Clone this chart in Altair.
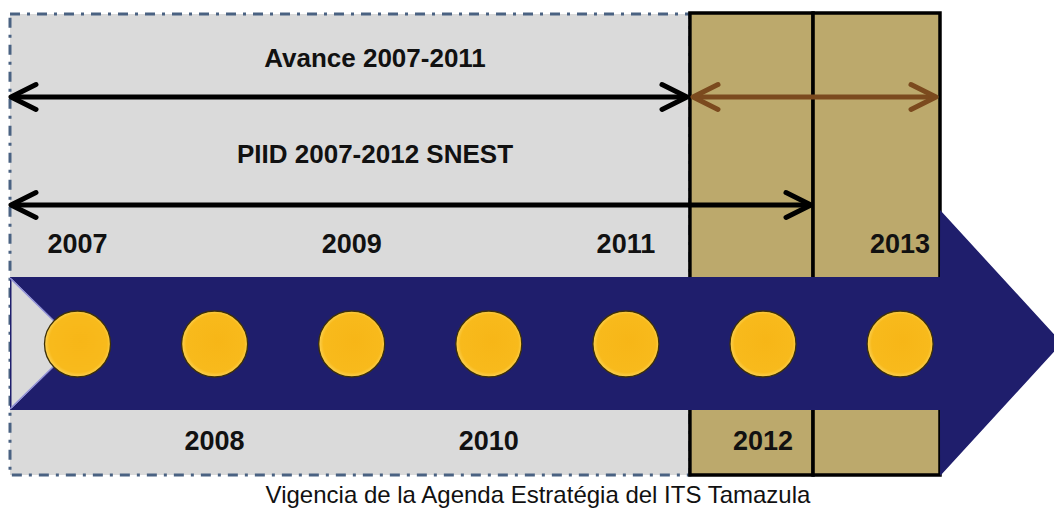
import altair as alt
import pandas as pd

# ---------------- data ----------------
years = [2007, 2008, 2009, 2010, 2011, 2012, 2013]
top_years = [2007, 2009, 2011, 2013]
bottom_years = [2008, 2010, 2012]
period_labels = ["Avance 2007-2011", "PIID 2007-2012 SNEST"]
caption = "Vigencia de la Agenda Estratégia del ITS Tamazula"

# column boundaries (in year units) of the highlighted 2012 / 2013 columns
col_edges = [2011.467, 2012.365, 2013.291]

# ---------------- layout helpers ----------------
PX0, STEP = 77.5, 137.1          # year 2007 position and pixels per year


def yr(px):
    return 2007 + (px - PX0) / STEP


W, H = 1046, 502
xs = alt.Scale(domain=[yr(8), yr(8 + W)])
ys = alt.Scale(domain=[8, 8 + H], reverse=True)


def X(f="x"):
    return alt.X(f"{f}:Q", scale=xs, axis=None)


def Y(f="y"):
    return alt.Y(f"{f}:Q", scale=ys, axis=None)


left_edge = yr(10)
NAVY = "#1f1e6c"
GRAY = "#dadada"
TAN = "#bca96c"
BROWN = "#7b4a1e"

# gray background panel with dash-dot border
bg = alt.Chart(pd.DataFrame({"x": [left_edge], "x2": [col_edges[0]], "y": [14], "y2": [475]})).mark_rect(
    fill=GRAY, stroke="#4a6282", strokeWidth=3, strokeDash=[10, 7, 3, 7]
).encode(x=X(), x2="x2:Q", y=Y(), y2="y2:Q")

# tan columns
tan_df = pd.DataFrame({"x": col_edges[:-1], "x2": col_edges[1:], "y": [13, 13], "y2": [475, 475]})
tan = alt.Chart(tan_df).mark_rect(fill=TAN, stroke="#000000", strokeWidth=3.5).encode(
    x=X(), x2="x2:Q", y=Y(), y2="y2:Q"
)

# big arrow body
arrow_df = pd.DataFrame({
    "x": [left_edge, col_edges[-1], col_edges[-1] + 0.0005, yr(1062)],
    "y": [277, 277, 210, 343],
    "y2": [410, 410, 476, 343],
})
arrow = alt.Chart(arrow_df).mark_area(color=NAVY, opacity=1).encode(x=X(), y=Y(), y2="y2:Q")

# notch cut into the arrow's tail
notch_df = pd.DataFrame({"x": [yr(11.5), yr(77)], "y": [278.5, 343.5], "y2": [408.5, 343.5]})
notch = alt.Chart(notch_df).mark_area(color=GRAY, opacity=1).encode(x=X(), y=Y(), y2="y2:Q")

notch_edge_df = pd.DataFrame({
    "x": [yr(10), yr(77), yr(10), yr(77)],
    "y": [278, 343.5, 409, 343.5],
    "g": ["a", "a", "b", "b"],
})
notch_edge = alt.Chart(notch_edge_df).mark_line(color="#8f8fd6", strokeWidth=1.5).encode(
    x=X(), y=Y(), detail="g:N"
)

# period double arrows
rules_df = pd.DataFrame({
    "x": [yr(12), yr(694), yr(12)],
    "x2": [yr(686), yr(935), yr(810)],
    "y": [97, 97, 205],
    "c": ["#000000", BROWN, "#000000"],
})
rules = alt.Chart(rules_df).mark_rule(strokeWidth=5, strokeCap="butt").encode(
    x=X(), x2="x2:Q", y=Y(), color=alt.Color("c:N", scale=None)
)

LEFT = "M1,-0.5L0,0L1,0.5"
RIGHT = "M-1,-0.5L0,0L-1,0.5"
heads_df = pd.DataFrame({
    "x": [yr(11), yr(687), yr(693), yr(936), yr(11), yr(811)],
    "y": [97, 97, 97, 97, 205, 205],
    "s": [LEFT, RIGHT, LEFT, RIGHT, LEFT, RIGHT],
    "c": ["#000000", "#000000", BROWN, BROWN, "#000000", "#000000"],
})
heads = alt.Chart(heads_df).mark_point(
    filled=False, size=2500, strokeWidth=5, strokeJoin="round", strokeCap="round", opacity=1
).encode(
    x=X(), y=Y(), shape=alt.Shape("s:N", scale=None), color=alt.Color("c:N", scale=None)
)

# period titles
titles_df = pd.DataFrame({"x": [yr(375), yr(375)], "y": [67, 163], "t": period_labels})
titles = alt.Chart(titles_df).mark_text(
    font="Liberation Sans", fontSize=26, fontWeight="bold", color="#111111", baseline="alphabetic"
).encode(x=X(), y=Y(), text="t:N")

# year labels
ylab_df = pd.DataFrame({
    "x": top_years + bottom_years,
    "y": [253] * len(top_years) + [450] * len(bottom_years),
    "t": [str(v) for v in top_years + bottom_years],
})
ylabs = alt.Chart(ylab_df).mark_text(
    font="Liberation Sans", fontSize=27, fontWeight="bold", color="#111111", baseline="alphabetic"
).encode(x=X(), y=Y(), text="t:N")

# gold circles
circ_df = pd.DataFrame({"x": years, "y": [344] * len(years)})
gold = {
    "gradient": "radial", "x1": 0.55, "y1": 0.45, "x2": 0.5, "y2": 0.5, "r1": 0, "r2": 0.55,
    "stops": [
        {"offset": 0, "color": "#f7b617"},
        {"offset": 0.8, "color": "#f8ba1c"},
        {"offset": 1, "color": "#fde27e"},
    ],
}
circles = alt.Chart(circ_df).mark_point(
    shape="circle", filled=True, size=4356, fill=gold, stroke="#3e3006", strokeWidth=1.3, opacity=1
).encode(x=X(), y=Y())

# caption
cap_df = pd.DataFrame({"x": [yr(538)], "y": [503], "t": [caption]})
cap = alt.Chart(cap_df).mark_text(
    font="Liberation Sans", fontSize=24, color="#111111", baseline="alphabetic"
).encode(x=X(), y=Y(), text="t:N")

chart = alt.layer(
    bg, tan, arrow, notch, notch_edge, rules, heads, titles, ylabs, circles, cap
).properties(
    width=W, height=H, autosize=alt.AutoSizeParams(type="none"), padding=0, background="white"
).configure_view(stroke=None)

chart.save("out.html", embed_options={"renderer": "svg", "actions": False})
